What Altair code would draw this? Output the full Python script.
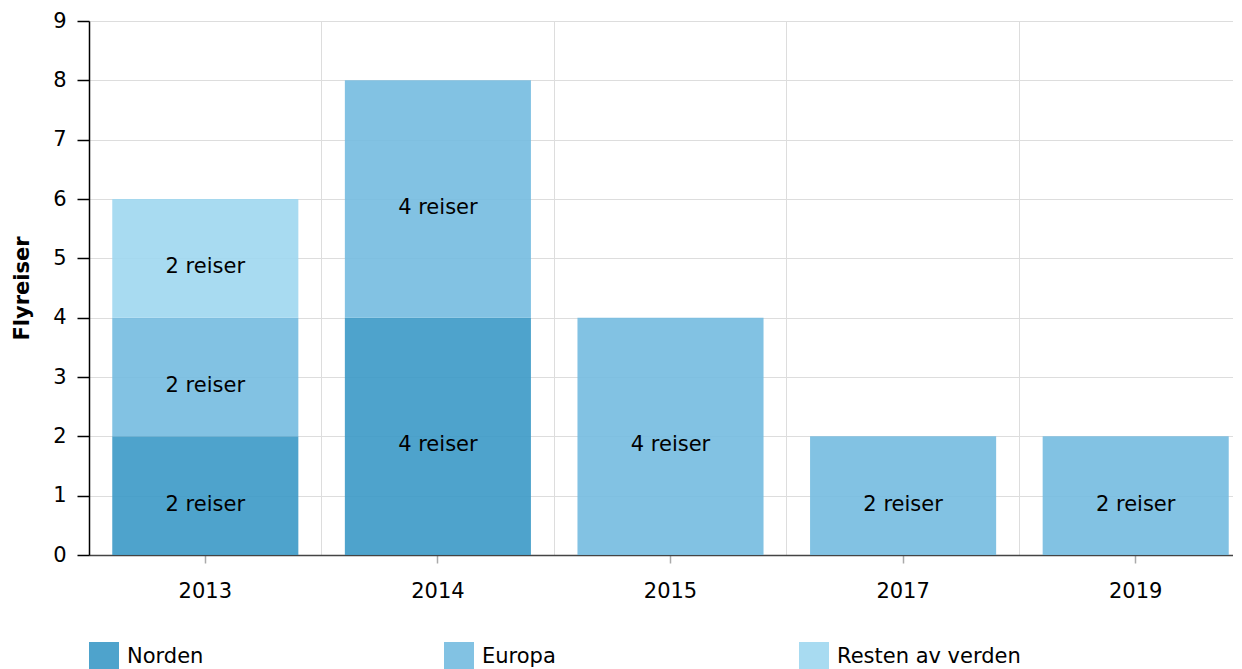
import altair as alt
import pandas as pd

years = ["2013", "2013", "2013", "2014", "2014", "2015", "2017", "2019"]
regions = ["Norden", "Europa", "Resten av verden", "Norden", "Europa", "Europa", "Europa", "Europa"]
trips = [2, 2, 2, 4, 4, 4, 2, 2]
labels = ["2 reiser", "2 reiser", "2 reiser", "4 reiser", "4 reiser", "4 reiser", "2 reiser", "2 reiser"]
year_domain = ["2013", "2014", "2015", "2017", "2019"]
region_order = ["Norden", "Europa", "Resten av verden"]
colors = ["#3B99C6", "#74BBE0", "#9FD7F0"]
y_ticks = [0, 1, 2, 3, 4, 5, 6, 7, 8, 9]

df = pd.DataFrame({"year": years, "region": regions, "trips": trips, "label": labels})
df["ord"] = df["region"].map({r: i for i, r in enumerate(region_order)})

FONT = "DejaVu Sans"
base = alt.Chart(df)

x_main = alt.X(
    "year:N",
    scale=alt.Scale(domain=year_domain, paddingInner=0.2, paddingOuter=0.1),
    axis=alt.Axis(title=None, grid=False, labelAngle=0, labelFontSize=21, labelFont=FONT,
                  labelColor="black", labelPadding=17, tickSize=8, tickColor="#aaaaaa",
                  tickWidth=1.5, domainColor="#444444", domainWidth=1.5, orient="bottom"),
)

y_scale = alt.Scale(domain=[0, 9], nice=False)

bars = base.mark_bar(opacity=0.9).encode(
    x=x_main,
    y=alt.Y("trips:Q", stack="zero", scale=y_scale,
            axis=alt.Axis(values=y_ticks, format="d", title="Flyreiser", titleFontSize=21,
                          titleFont=FONT, titleFontWeight="bold", titleColor="black",
                          titlePadding=20,
                          labelFontSize=21, labelFont=FONT, labelColor="black", labelPadding=11,
                          tickSize=12, tickColor="black", tickWidth=1.5,
                          domainColor="black", domainWidth=1.5,
                          grid=True, gridColor="#dddddd", gridWidth=1)),
    color=alt.Color("region:N", scale=alt.Scale(domain=region_order, range=colors),
                    legend=alt.Legend(title=None, orient="none", legendX=0, legendY=621,
                                      direction="horizontal", columns=3, gridAlign="all",
                                      columnPadding=133, symbolType="square", symbolSize=900,
                                      symbolOpacity=0.9, symbolStrokeWidth=0, labelLimit=0,
                                      labelFontSize=21, labelFont=FONT, labelColor="black",
                                      labelOffset=8, padding=0)),
    order=alt.Order("ord:Q"),
)

text = base.transform_stack(
    stack="trips", groupby=["year"], as_=["y0", "y1"], sort=[alt.SortField("ord")]
).transform_calculate(mid="(datum.y0 + datum.y1) / 2").mark_text(
    fontSize=21, font=FONT, color="black", dy=9
).encode(
    x=alt.X("year:N"),
    y=alt.Y("mid:Q", scale=y_scale),
    text="label:N",
)

grid = base.mark_bar(opacity=0).encode(
    x=alt.X("year:N",
            scale=alt.Scale(type="band", domain=year_domain, paddingInner=0, paddingOuter=0),
            axis=alt.Axis(title=None, grid=True, bandPosition=0, labels=False, ticks=False,
                          domain=False, gridColor="#dddddd", gridWidth=1, orient="bottom")),
)

chart = alt.layer(grid, alt.layer(bars, text)).resolve_scale(x="independent").resolve_axis(
    x="independent"
).properties(
    width=1163, height=534,
    autosize=alt.AutoSizeParams(type="none"),
    padding={"left": 81, "top": 13, "right": -19, "bottom": 122},
).configure_view(stroke=None)

chart.save("out.html", embed_options={"renderer": "svg", "actions": False})
